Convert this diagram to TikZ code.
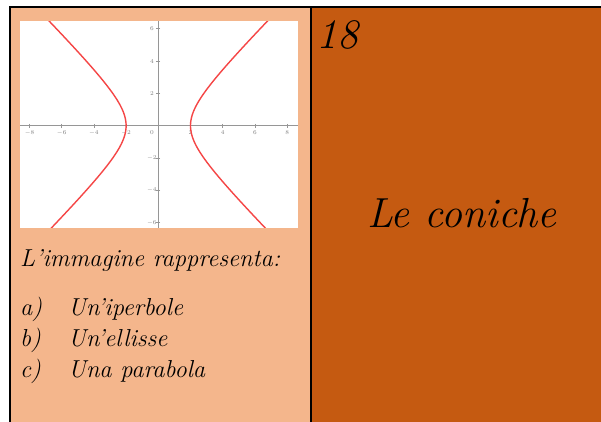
\documentclass[tikz,border=0pt]{standalone}
\usepackage{amsmath,amssymb}
\usetikzlibrary{positioning,calc}

\definecolor{cardlight}{RGB}{244,182,140}
\definecolor{carddark}{RGB}{197,90,17}
\definecolor{curvered}{RGB}{245,70,70}
\definecolor{axisgray}{RGB}{150,150,150}

\tikzset{
  cardtext/.style={inner sep=0pt,anchor=base west,font=\fontsize{24.5}{28}\selectfont\itshape},
  ticklabel/.style={inner sep=0pt,text=gray,font=\fontsize{6}{7}\selectfont\sffamily},
  border/.style={line width=1.8pt,black}
}

\begin{document}
\begin{tikzpicture}[x=1pt,y=-1pt]
  \useasboundingbox (0,0) rectangle (601,422);
  % card panels
  \fill[cardlight] (9.8,6.7) rectangle (311,422);
  \fill[carddark] (311,6.7) rectangle (601,422);
  \draw[border] (9.8,422) -- (9.8,6.7) -- (601,6.7);
  \draw[border] (311,6.7) -- (311,422);
  % graph of the hyperbola
  \fill[white] (20,21) rectangle (298,228);
  \begin{scope}[shift={(158.3,125.7)},xscale=16.1,yscale=-16.15]
    \clip (-8.59,-6.33) rectangle (8.68,6.47);
    \draw[axisgray,line width=1.5pt] (-8.59,0) -- (8.68,0);
    \draw[axisgray,line width=1.5pt] (0,-6.33) -- (0,6.47);
    \foreach \k in {-8,-6,-4,-2,2,4,6,8}{
      \draw[axisgray,line width=0.8pt] (\k,0.12) -- (\k,-0.12);
      \node[ticklabel] (tx\k) at (\k,-0.45) {$\k$};
    }
    \foreach \k in {-6,-4,-2,2,4,6}{
      \draw[axisgray,line width=0.8pt] (0.12,\k) -- (-0.12,\k);
      \node[ticklabel] (ty\k) at (-0.4,\k) {$\k$};
    }
    \node[ticklabel] (t0) at (-0.4,-0.45) {$0$};
    \draw[curvered,line width=1.4pt,domain=-1.9:1.9,smooth,variable=\t,samples=120]
      plot ({2*cosh(\t)},{2*sinh(\t)});
    \draw[curvered,line width=1.4pt,domain=-1.9:1.9,smooth,variable=\t,samples=120]
      plot ({-2*cosh(\t)},{2*sinh(\t)});
  \end{scope}
  % question
  \node[cardtext] (domanda) at (20,266) {L'immagine rappresenta:};
  \node[cardtext] (la) at (20,315) {a)};
  \node[cardtext] (ra) at (68,315) {Un'iperbole};
  \node[cardtext] (lb) at (20,346) {b)};
  \node[cardtext] (rb) at (68,346) {Un'ellisse};
  \node[cardtext] (lc) at (20,377) {c)};
  \node[cardtext] (rc) at (68,377) {Una parabola};
  % back of the card
  \node[cardtext,font=\fontsize{42}{46}\selectfont\itshape] (numero) at (316,49) {18};
  \node[inner sep=0pt,anchor=base,font=\fontsize{42}{48}\selectfont\itshape] (tema) at (462,227) {Le coniche};
\end{tikzpicture}
\end{document}
